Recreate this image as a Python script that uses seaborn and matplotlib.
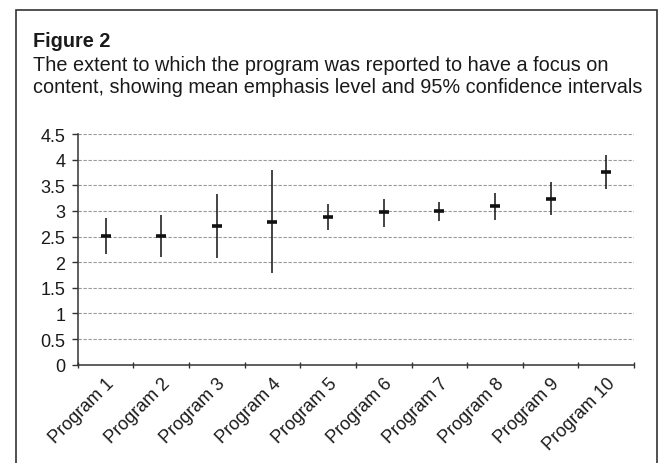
import matplotlib
matplotlib.use('Agg')
import matplotlib.pyplot as plt
from matplotlib.patches import Rectangle
from matplotlib.ticker import FixedLocator, NullFormatter
import seaborn as sns

programs = ['Program 1', 'Program 2', 'Program 3', 'Program 4', 'Program 5',
            'Program 6', 'Program 7', 'Program 8', 'Program 9', 'Program 10']
means = [2.51, 2.51, 2.71, 2.79, 2.88, 2.97, 2.99, 3.09, 3.24, 3.76]
lower = [2.15, 2.11, 2.08, 1.78, 2.62, 2.69, 2.80, 2.82, 2.92, 3.42]
upper = [2.86, 2.92, 3.33, 3.80, 3.13, 3.23, 3.18, 3.35, 3.56, 4.10]
y_ticks = [0, 0.5, 1, 1.5, 2, 2.5, 3, 3.5, 4, 4.5]
y_labels = ['0', '0.5', '1', '1.5', '2', '2.5', '3', '3.5', '4', '4.5']

sns.set_style('white')
plt.rcParams['font.family'] = ['Liberation Sans', 'DejaVu Sans']

fig = plt.figure(figsize=(6.64, 4.64), dpi=100)
ax = fig.add_axes([0.117, 0.212, 0.838, 0.497])

# confidence interval lines
ax.vlines(programs, lower, upper, color='#111111', linewidth=1.1, zorder=3)
# mean marks
sns.scatterplot(x=programs, y=means, marker='_', s=60, linewidth=2.6,
                color='#111111', ax=ax, zorder=4)

ax.set_xlim(-0.5, len(programs) - 0.5)
ax.set_ylim(0, 4.5)
ax.set_yticks(y_ticks)
ax.set_yticklabels(y_labels, fontsize=13, color='#1a1a1a')
ax.set_xticks(range(len(programs)))
ax.set_xticklabels(programs, rotation=45, ha='right', rotation_mode='anchor',
                   fontsize=13, color='#1a1a1a')
ax.xaxis.set_minor_locator(FixedLocator([i - 0.5 for i in range(len(programs) + 1)]))
ax.xaxis.set_minor_formatter(NullFormatter())
ax.tick_params(axis='x', which='major', length=0, pad=7)
ax.tick_params(axis='x', which='minor', length=5, width=1, direction='inout',
               color='#333333', bottom=True)
ax.tick_params(axis='y', length=4, width=1, direction='out', color='#333333',
               left=True, pad=5)

for v in y_ticks[1:]:
    ax.axhline(v, color='#999999', linewidth=0.8, linestyle=(0, (3, 1.5)), zorder=1)

sns.despine(ax=ax, top=True, right=True)
ax.spines['left'].set_color('#333333')
ax.spines['bottom'].set_color('#333333')
ax.spines['left'].set_linewidth(1.1)
ax.spines['bottom'].set_linewidth(1.1)
ax.set_xlabel('')
ax.set_ylabel('')

# outer frame
fig.patches.append(Rectangle((0.024, -0.02), 0.965, 0.997, transform=fig.transFigure,
                             fill=False, edgecolor='#333333', linewidth=1.2))

fig.text(0.0497, 0.899, 'Figure 2', fontsize=14.3, fontweight='bold',
         color='#1a1a1a', va='baseline')
fig.text(0.0497, 0.847, 'The extent to which the program was reported to have a focus on',
         fontsize=14.3, color='#1a1a1a', va='baseline')
fig.text(0.0497, 0.800, 'content, showing mean emphasis level and 95% confidence intervals',
         fontsize=14.3, color='#1a1a1a', va='baseline')

fig.savefig('out.png', dpi=100)
